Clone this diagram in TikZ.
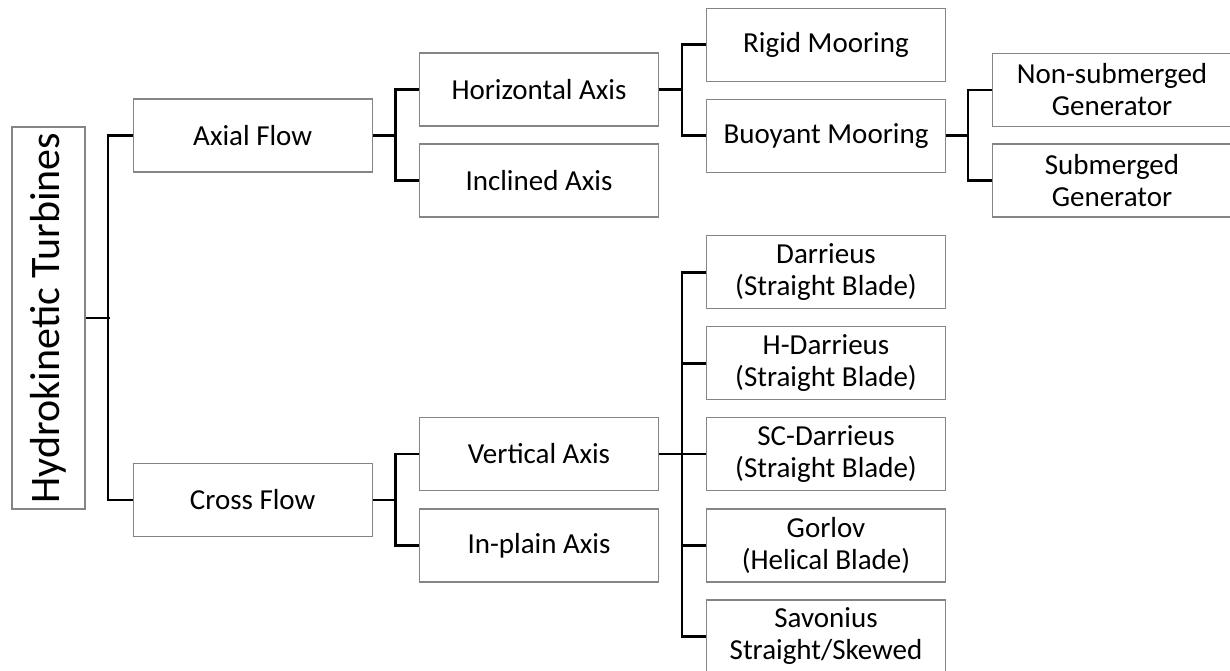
\documentclass[tikz,border=0pt]{standalone}
\usepackage{fontspec}
\setmainfont{Carlito}
\definecolor{boxgray}{HTML}{858585}
\begin{document}
\begin{tikzpicture}[x=1pt,y=-1pt,
  box/.style={draw=boxgray, line width=1.3pt, minimum width=239pt, minimum height=73pt,
    inner sep=0pt, align=center, font=\fontsize{29}{32}\selectfont, text=black},
  conn/.style={draw=black, line width=2.6pt},
]
\useasboundingbox (0,0) rectangle (1230,671);
\clip (0,0) rectangle (1230,671);

% root
\node[box, rotate=90, minimum width=382pt, minimum height=73pt,
  font=\fontsize{42}{48}\selectfont] (root) at (48.5,318) {Hydrokinetic Turbines};

% level 1
\node[box] (axial) at (252.7,135.5) {Axial Flow};
\node[box] (cross) at (252.7,500) {Cross Flow};

% level 2
\node[box] (horiz) at (539,89.5) {Horizontal Axis};
\node[box] (incl) at (539,180.5) {Inclined Axis};
\node[box] (vert) at (539,454) {Vertical Axis};
\node[box] (inpl) at (539,545.5) {In-plain Axis};

% level 3
\node[box] (rigid) at (826,44.7) {Rigid Mooring};
\node[box] (buoy) at (826,135.7) {Buoyant Mooring};
\node[box] (darr) at (826,272.3) {Darrieus\\(Straight Blade)};
\node[box] (hdarr) at (826,363.2) {H-Darrieus\\(Straight Blade)};
\node[box] (scdarr) at (826,454) {SC-Darrieus\\(Straight Blade)};
\node[box] (gorlov) at (826,545.5) {Gorlov\\(Helical Blade)};
\node[box] (savon) at (826,636.5) {Savonius\\Straight/Skewed};

% level 4
\node[box] (nonsub) at (1112,90) {Non-submerged\\Generator};
\node[box] (sub) at (1112,180.5) {Submerged\\Generator};

% connectors
\draw[conn] (root.south) -- ++(24,0);
\draw[conn] (axial.west) -- ++(-24.5,0) |- (cross.west);

\draw[conn] (axial.east) -- ++(23.5,0);
\draw[conn] (horiz.west) -- ++(-23.5,0) |- (incl.west);

\draw[conn] (cross.east) -- ++(23.5,0);
\draw[conn] (vert.west) -- ++(-23.5,0) |- (inpl.west);

\draw[conn] (horiz.east) -- ++(23.5,0);
\draw[conn] (rigid.west) -- ++(-24,0) |- (buoy.west);

\draw[conn] (buoy.east) -- ++(23.3,0);
\draw[conn] (nonsub.west) -- ++(-24,0) |- (sub.west);

\draw[conn] (vert.east) -- ++(23.5,0);
\draw[conn] (darr.west) -- ++(-24,0) |- (savon.west);
\draw[conn] (hdarr.west) -- ++(-24,0);
\draw[conn] (scdarr.west) -- ++(-24,0);
\draw[conn] (gorlov.west) -- ++(-24,0);
\end{tikzpicture}
\end{document}
